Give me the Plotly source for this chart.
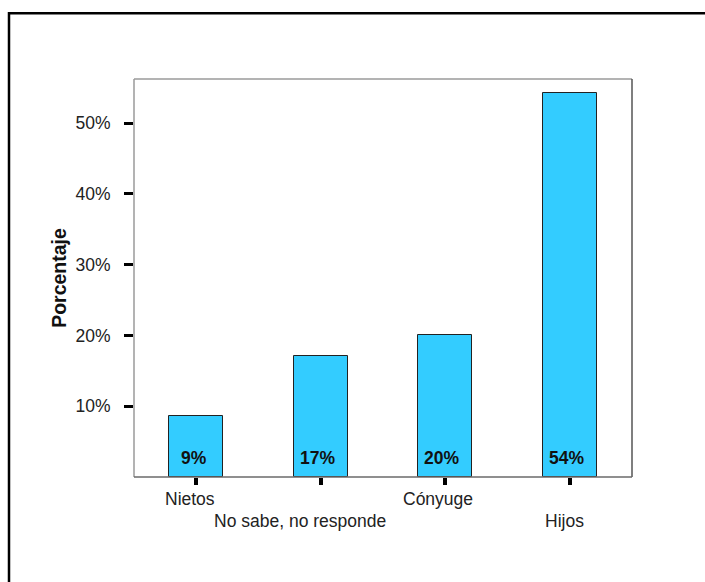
import plotly.graph_objects as go

# Relationship categories and their share of respondents (%)
categories = ["Nietos", "No sabe, no responde", "Cónyuge", "Hijos"]
percentages = [8.6, 17.1, 20.0, 54.3]
y_ticks = [10, 20, 30, 40, 50]
y_tick_labels = ["10%", "20%", "30%", "40%", "50%"]

positions = list(range(len(categories)))
font_family = "Arial, Liberation Sans, sans-serif"

fig = go.Figure()
fig.add_trace(go.Bar(
    x=positions,
    y=percentages,
    width=0.43,
    marker=dict(color="#33CCFF", line=dict(color="#222222", width=1)),
    hoverinfo="skip",
    showlegend=False,
))

annotations = []
# Value labels near the bottom of each bar (nudged slightly left)
for xi, v in zip(positions, percentages):
    label = f"{round(v)}%"
    annotations.append(dict(
        x=xi, y=0, xref="x", yref="y",
        text=f"<b>{label}</b>", showarrow=False,
        yanchor="middle", xanchor="center", yshift=19,
        xshift=-1.2 * len(label),
        font=dict(family=font_family, size=17.5, color="#111111"),
    ))
# Category labels alternate between two rows, nudged left by their length
for i, (xi, name) in enumerate(zip(positions, categories)):
    annotations.append(dict(
        x=xi, y=0, xref="x", yref="paper",
        text=name, showarrow=False,
        yanchor="middle", xanchor="center",
        yshift=-21.5 if i % 2 == 0 else -44,
        xshift=-1.05 * len(name),
        font=dict(family=font_family, size=17.5, color="#222222"),
    ))

shapes = [
    # plot frame: lighter top/left, darker right/bottom
    dict(type="line", xref="paper", yref="paper", x0=0, x1=1, y0=1, y1=1,
         line=dict(color="#9a9a9a", width=1.5)),
    dict(type="line", xref="paper", yref="paper", x0=0, x1=0, y0=0, y1=1,
         line=dict(color="#9a9a9a", width=1.5)),
    dict(type="line", xref="paper", yref="paper", x0=1, x1=1, y0=0, y1=1,
         line=dict(color="#555555", width=1.5)),
    dict(type="line", xref="paper", yref="paper", x0=0, x1=1, y0=0, y1=0,
         line=dict(color="#6a6a6a", width=1.5)),
    # outer border of the chart panel
    dict(type="rect", xref="paper", yref="paper",
         x0=-0.251, x1=1.6, y0=-0.6, y1=1.1655,
         line=dict(color="black", width=2.5), layer="above"),
]

fig.update_layout(
    width=705, height=582,
    margin=dict(l=134, r=73, t=79, b=104.5),
    paper_bgcolor="white", plot_bgcolor="white",
    font=dict(family=font_family, size=17.5, color="#222222"),
    bargap=0,
    xaxis=dict(
        range=[-0.5, 3.5], tickvals=positions, ticktext=["", "", "", ""],
        ticks="outside", ticklen=7, tickwidth=3.5, tickcolor="black",
        showgrid=False, zeroline=False, showline=False, fixedrange=True,
    ),
    yaxis=dict(
        range=[0, 56.25], tickvals=y_ticks, ticktext=y_tick_labels,
        ticks="outside", ticklen=9, tickwidth=3, tickcolor="black",
        ticklabelstandoff=10,
        tickfont=dict(family=font_family, size=17.5, color="#222222"),
        showgrid=False, zeroline=False, showline=False, fixedrange=True,
        title=dict(text="<b>Porcentaje</b>", standoff=3,
                   font=dict(family=font_family, size=19.5, color="#111111")),
    ),
    annotations=annotations,
    shapes=shapes,
)

fig.write_html("out.html")
